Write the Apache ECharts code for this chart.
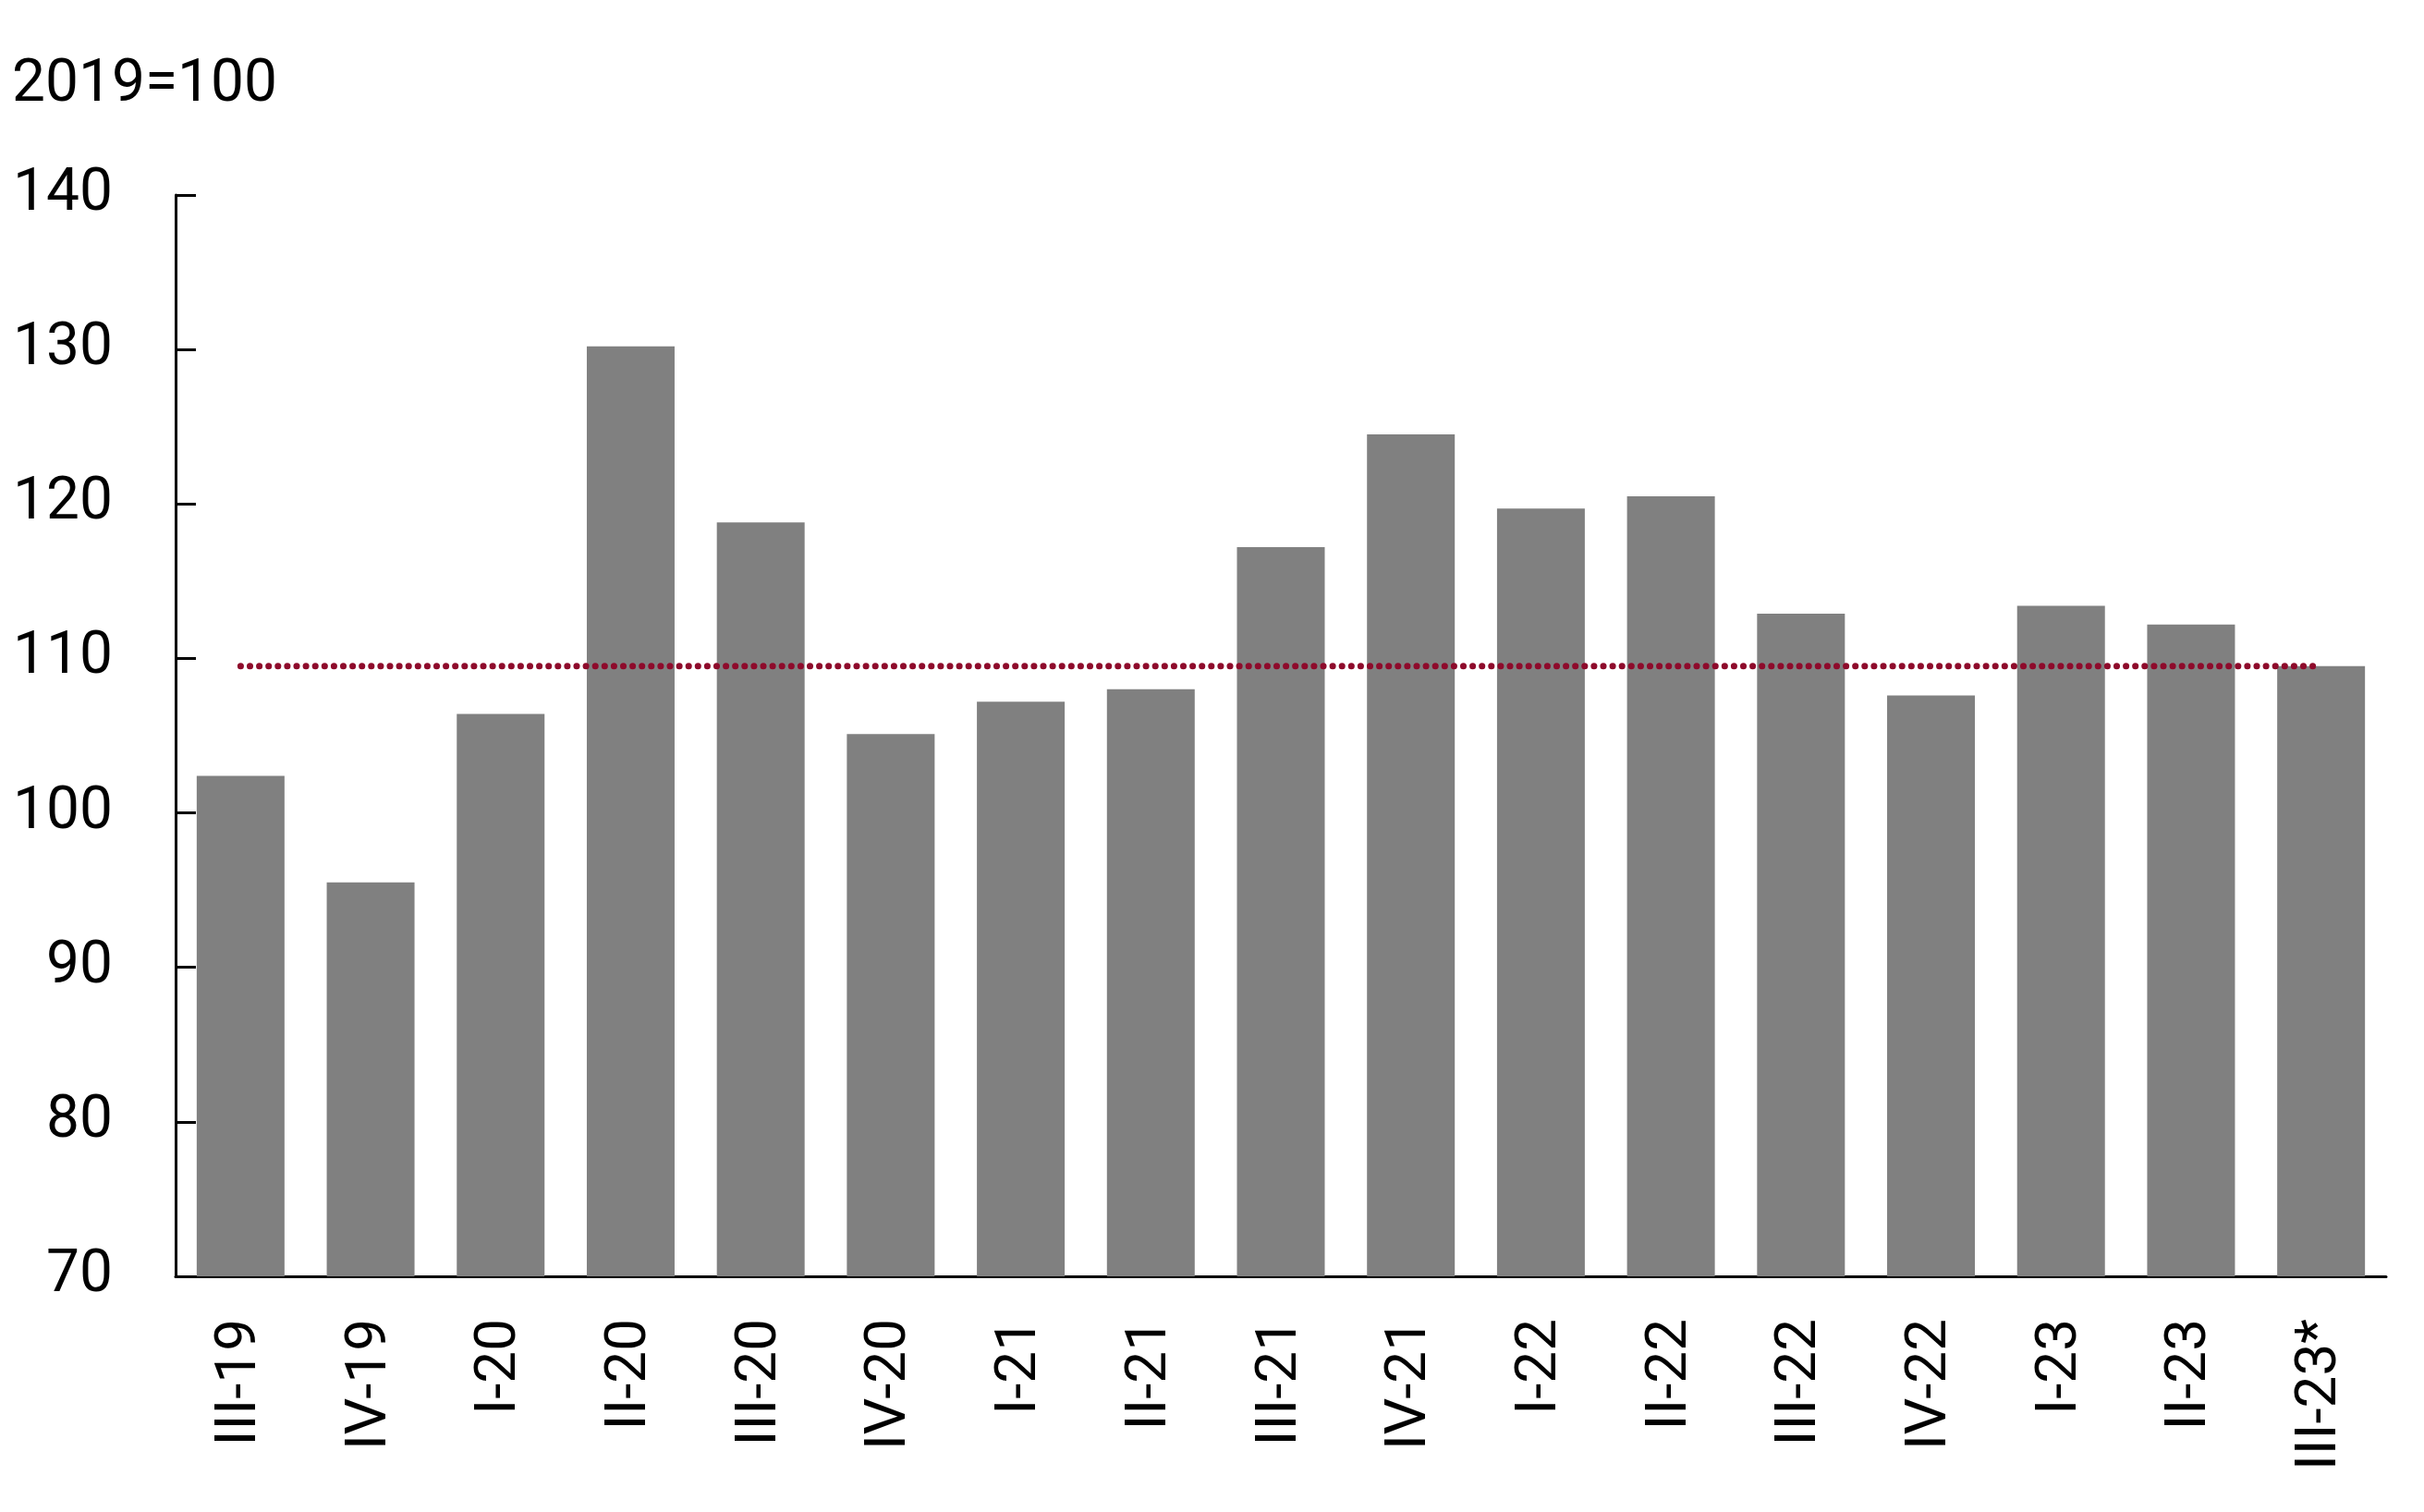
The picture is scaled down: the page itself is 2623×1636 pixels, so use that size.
<!DOCTYPE html>
<html>
<head>
<meta charset="utf-8">
<script src="https://cdn.jsdelivr.net/npm/echarts@6/dist/echarts.min.js"></script>
<style>
  html, body { margin: 0; padding: 0; background: #fff; }
  #chart { width: 2623px; height: 1636px; }
</style>
</head>
<body>
<div id="chart"></div>
<script>
// quarters
const quarters = ['III-19', 'IV-19', 'I-20', 'II-20', 'III-20', 'IV-20', 'I-21', 'II-21', 'III-21',
  'IV-21', 'I-22', 'II-22', 'III-22', 'IV-22', 'I-23', 'II-23', 'III-23*'];
// index values, 2019=100
const indexValues = [102.4, 95.5, 106.4, 130.2, 118.8, 105.1, 107.2, 108.0, 117.2,
  124.5, 119.7, 120.5, 112.9, 107.6, 113.4, 112.2, 109.5];
// dotted reference level
const refLevel = [109.5, 109.5, 109.5, 109.5, 109.5, 109.5, 109.5, 109.5, 109.5,
  109.5, 109.5, 109.5, 109.5, 109.5, 109.5, 109.5, 109.5];
const yTicks = [70, 80, 90, 100, 110, 120, 130, 140];

const chart = echarts.init(document.getElementById('chart'));
chart.setOption({
  animation: false,
  textStyle: { fontFamily: 'Roboto' },
  grid: { left: 190, right: 41, top: 211, bottom: 255 },
  graphic: [{
    type: 'text',
    left: 13,
    top: 61,
    style: { text: '2019=100', font: '64px Roboto', fill: '#000' }
  }],
  xAxis: {
    type: 'category',
    data: quarters,
    axisLine: { lineStyle: { color: '#000', width: 3 } },
    axisTick: { inside: true, length: 22, lineStyle: { color: '#000', width: 3 } },
    axisLabel: { rotate: 90, margin: 46, fontSize: 62, color: '#000', interval: 0 }
  },
  yAxis: {
    type: 'value',
    min: yTicks[0],
    max: yTicks[yTicks.length - 1],
    interval: 10,
    axisLine: { show: true, lineStyle: { color: '#000', width: 3 } },
    axisTick: { show: true, inside: true, length: 22, lineStyle: { color: '#000', width: 3 } },
    axisLabel: { fontSize: 64, color: '#000', margin: 68, padding: [8, 0, 0, 0] },
    splitLine: { show: false }
  },
  series: [
    {
      type: 'bar',
      data: indexValues,
      barWidth: 95,
      itemStyle: { color: '#808080' }
    },
    {
      type: 'line',
      data: refLevel,
      symbol: 'none',
      z: 5,
      lineStyle: { color: '#8E0A2B', width: 7, type: [0.1, 10], cap: 'round' }
    }
  ]
});
</script>
</body>
</html>
